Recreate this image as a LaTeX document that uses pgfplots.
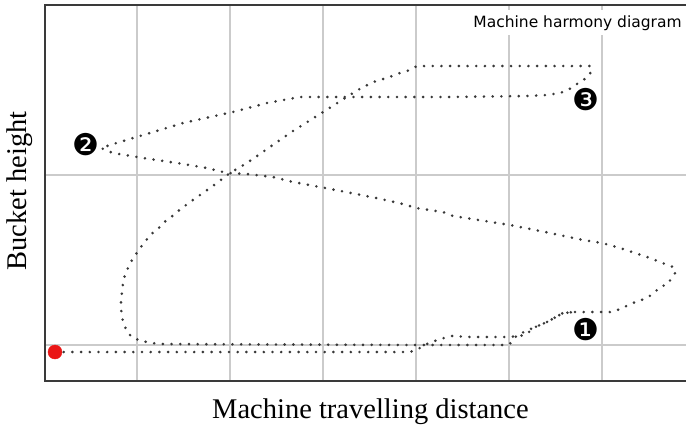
\documentclass[border=0pt]{standalone}
\usepackage{fontspec}
\setmainfont{Liberation Serif}
\newfontfamily\dejavu{DejaVu Sans}
\usepackage{pgfplots}
\pgfplotsset{compat=1.18}
\definecolor{traj}{HTML}{383838}
\definecolor{startred}{HTML}{EA1616}
\definecolor{gridgray}{HTML}{CBCBCB}
\definecolor{framegray}{HTML}{3A3A3A}

\begin{document}
\begin{tikzpicture}
  \begin{axis}[
      scale only axis, width=645pt, height=376pt,
      at={(0,0)}, anchor=south west,
      xmin=45, xmax=690, ymin=5, ymax=381, y dir=reverse,
      xtick={137,230,323,416,509,602}, ytick={175,345},
      xticklabels={}, yticklabels={},
      major tick length=0pt,
      grid=major, grid style={gridgray, line width=1.4pt},
      axis line style={framegray, line width=2pt},
      clip=false,
    ]
    % first forward run from the start point
    \addplot[traj, line width=2.9pt, line cap=round, line join=round,
      dash pattern=on 0pt off 8.7pt] coordinates {
      (55,352) (410,352) (418,349) (427,344) (440,339) (452,336)
      (470,337) (508,337) (520,336) (527,334) (533,328) (547,322)
      (563,313) (575,312)
    };
    % main working cycle
    \addplot[traj, line width=2.9pt, line cap=round, line join=round,
      dash pattern=on 0pt off 8.7pt] coordinates {
      (575,312) (612,312) (620,309) (633,303) (647,298) (655,292)
      (660,287) (668,284) (672,277) (676,272) (673,267) (665,264)
      (650,258) (635,253) (620,248) (602,243) (583,240) (545,232)
      (510,225) (453,216) (443,212) (416,208) (403,204) (376,198)
      (346,192) (320,187) (293,182) (273,177) (247,174) (227,173)
      (207,168) (177,163) (143,158) (113,153) (101,148)
      (110,145) (133,138) (160,130) (183,123) (210,117) (233,112)
      (267,103) (300,97) (343,97) (450,97) (527,96) (547,95)
      (560,93) (568,90) (580,82) (588,77) (592,70) (590,66)
      (417,66) (410,70) (400,73) (387,78) (376,81) (363,87)
      (353,93) (320,114) (293,131) (267,149) (247,163) (230,173)
      (217,183) (200,195) (190,202) (177,212) (170,218) (163,223)
      (158,229) (150,235) (145,242) (140,248) (136,254) (132,260)
      (128,268) (125,275) (123,283) (122,292) (121,300) (121,308)
      (122,317) (124,325) (128,333) (133,338) (142,341) (152,343)
      (160,344) (410,345) (508,345) (512,342) (517,335) (533,328)
      (547,322) (563,313) (575,312)
    };
    % start point
    \addplot[only marks, mark=*, mark size=7pt, color=startred] coordinates {(55,352)};

    \node[font=\dejavu\fontsize{30}{31}\selectfont] at (axis cs:586,330) {❶};
    \node[font=\dejavu\fontsize{30}{31}\selectfont] at (axis cs:86,145) {❷};
    \node[font=\dejavu\fontsize{30}{31}\selectfont] at (axis cs:586,100) {❸};

    \node[anchor=base, fill=white, inner xsep=5pt, inner ysep=5pt,
      font=\dejavu\fontsize{15.5}{17}\selectfont] at (axis cs:577.5,27) {Machine harmony diagram};

    \node[anchor=base, font=\fontsize{28.5}{30}\selectfont] at (axis cs:370.5,418) {Machine travelling distance};
    \node[anchor=base, rotate=90, font=\fontsize{28.5}{30}\selectfont] at (axis cs:27,191) {Bucket height};

    \coordinate (bbA) at (axis cs:0,426);
    \coordinate (bbB) at (axis cs:686,0);
  \end{axis}
  \pgfresetboundingbox
  \useasboundingbox (bbA) rectangle (bbB);
\end{tikzpicture}
\end{document}
